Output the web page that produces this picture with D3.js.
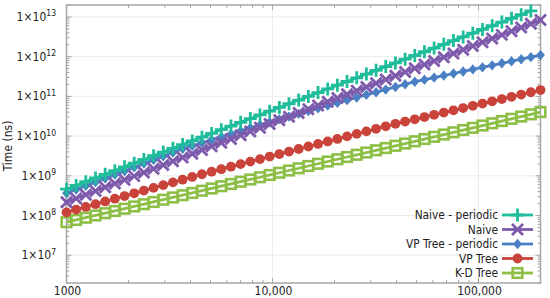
<!DOCTYPE html>
<html><head><meta charset="utf-8">
<script src="https://cdn.jsdelivr.net/npm/d3@7"></script>
<style>
html,body{margin:0;padding:0;background:#fff;}
svg{display:block;}
text{font-family:"DejaVu Sans Condensed","DejaVu Sans",sans-serif;fill:#222;}
</style></head>
<body><svg id="c" width="550" height="298"></svg>
<script>
const sizes = [1000,1114,1241,1383,1541,1717,1913,2132,2375,2647,2949,3286,3661,4079,4545,5064,5642,6286,7004,7804,8695,9688,10795,12028,13401,14931,16637,18537,20653,23012,25640,28568,31831,35466,39516,44029,49057,54659,60901,67856,75605,84239,93859,104578,116521,129828,144654,161174,179580,200000];

const naivePeriodic = [4.61e8,5.72e8,7.10e8,8.80e8,1.09e9,1.35e9,1.68e9,2.08e9,2.58e9,3.20e9,3.97e9,4.93e9,6.11e9,7.58e9,9.40e9,1.165e10,1.45e10,1.79e10,2.22e10,2.76e10,3.42e10,4.24e10,5.26e10,6.52e10,8.09e10,1.00e11,1.245e11,1.54e11,1.91e11,2.37e11,2.94e11,3.65e11,4.53e11,5.62e11,6.97e11,8.64e11,1.07e12,1.33e12,1.65e12,2.04e12,2.54e12,3.14e12,3.90e12,4.84e12,6.00e12,7.44e12,9.23e12,1.14e13,1.42e13];
const naive = [2.17e8,2.70e8,3.34e8,4.15e8,5.15e8,6.38e8,7.92e8,9.82e8,1.218e9,1.511e9,1.875e9,2.326e9,2.885e9,3.579e9,4.44e9,5.51e9,6.83e9,8.48e9,1.052e10,1.305e10,1.618e10,2.007e10,2.49e10,3.09e10,3.83e10,4.75e10,5.90e10,7.32e10,9.07e10,1.126e11,1.396e11,1.732e11,2.149e11,2.666e11,3.307e11,4.10e11,5.09e11,6.31e11,7.83e11,9.71e11,1.205e12,1.495e12,1.854e12,2.30e12,2.854e12,3.54e12,4.39e12,5.45e12,6.76e12,8.38e12];
const vpPeriodic = [3.66e8,4.53e8,5.61e8,6.95e8,8.61e8,1.069e9,1.324e9,1.641e9,2.032e9,2.518e9,3.119e9,3.864e9,4.786e9,5.69e9,6.76e9,8.04e9,9.55e9,1.135e10,1.349e10,1.603e10,1.905e10,2.239e10,2.630e10,3.090e10,3.631e10,4.266e10,5.012e10,5.888e10,6.918e10,8.05e10,9.40e10,1.094e11,1.274e11,1.483e11,1.730e11,2.014e11,2.344e11,2.64e11,2.97e11,3.35e11,3.77e11,4.24e11,4.78e11,5.38e11,6.05e11,6.82e11,7.67e11,8.64e11,9.73e11,1.095e12];
const vpTree = [1.202e8,1.409e8,1.648e8,1.932e8,2.259e8,2.649e8,3.097e8,3.631e8,4.256e8,4.977e8,5.834e8,6.823e8,7.998e8,9.354e8,1.096e9,1.269e9,1.469e9,1.700e9,1.968e9,2.278e9,2.636e9,3.051e9,3.532e9,4.088e9,4.732e9,5.477e9,6.339e9,7.337e9,8.492e9,9.83e9,1.138e10,1.317e10,1.524e10,1.764e10,2.042e10,2.327e10,2.651e10,3.020e10,3.441e10,3.921e10,4.467e10,5.090e10,5.798e10,6.607e10,7.530e10,8.577e10,9.772e10,1.113e11,1.269e11,1.445e11];
const kdTree = [6.79e7,7.74e7,8.81e7,1.004e8,1.144e8,1.303e8,1.485e8,1.691e8,1.926e8,2.195e8,2.500e8,2.848e8,3.245e8,3.697e8,4.211e8,4.797e8,5.465e8,6.226e8,7.093e8,8.081e8,9.204e8,1.049e9,1.195e9,1.361e9,1.550e9,1.766e9,2.012e9,2.292e9,2.611e9,2.975e9,3.388e9,3.860e9,4.398e9,5.010e9,5.707e9,6.501e9,7.407e9,8.438e9,9.612e9,1.095e10,1.247e10,1.421e10,1.619e10,1.844e10,2.101e10,2.393e10,2.726e10,3.106e10,3.538e10,4.031e10];

const seriesNames = ["Naive - periodic","Naive","VP Tree - periodic","VP Tree","K-D Tree"];
const xTickValues = [1000,10000,100000];
const xTickLabels = ["1000","10,000","100,000"];
const yTickExponents = [7,8,9,10,11,12,13];

const series = [
  {name:seriesNames[0], values:naivePeriodic, color:"#20bd9c", marker:"plus"},
  {name:seriesNames[1], values:naive, color:"#7e5aac", marker:"cross"},
  {name:seriesNames[2], values:vpPeriodic, color:"#4a7fc3", marker:"diamond"},
  {name:seriesNames[3], values:vpTree, color:"#c9433b", marker:"circle"},
  {name:seriesNames[4], values:kdTree, color:"#8dbf46", marker:"square"}
];

const L=66.5, R=540.5, T=5, B=283;
const svg = d3.select("#c");
const x = d3.scaleLog().domain([1000,200000]).range([L,R]);
const y = d3.scaleLog().domain([2e6,2e13]).range([B,T]);

// grid
const gx = svg.append("g");
xTickValues.forEach(v=>{ gx.append("line").attr("x1",x(v)).attr("x2",x(v)).attr("y1",T).attr("y2",B).attr("stroke","#ececec").attr("stroke-width",1); });
yTickExponents.forEach(e=>{ const v=Math.pow(10,e); gx.append("line").attr("x1",L).attr("x2",R).attr("y1",y(v)).attr("y2",y(v)).attr("stroke","#ececec").attr("stroke-width",1); });

// ticks
const frameColor="#a6a6a6";
const tk = svg.append("g").attr("stroke",frameColor).attr("stroke-width",1);
const xMinor = x.ticks();
xMinor.forEach(v=>{
  const major = xTickValues.includes(v);
  const len = major?5:3;
  tk.append("line").attr("x1",x(v)).attr("x2",x(v)).attr("y1",B).attr("y2",B-len);
  tk.append("line").attr("x1",x(v)).attr("x2",x(v)).attr("y1",T).attr("y2",T+len);
});
const yMinor = y.ticks();
yMinor.forEach(v=>{
  const e = Math.log10(v);
  const major = Math.abs(e-Math.round(e))<1e-9;
  const len = major?5:3;
  tk.append("line").attr("y1",y(v)).attr("y2",y(v)).attr("x1",L).attr("x2",L+len);
  tk.append("line").attr("y1",y(v)).attr("y2",y(v)).attr("x1",R).attr("x2",R-len);
});

// frame
svg.append("rect").attr("x",L).attr("y",T).attr("width",R-L).attr("height",B-T)
  .attr("fill","none").attr("stroke",frameColor).attr("stroke-width",1.5);

// axis labels
xTickValues.forEach((v,i)=>{
  svg.append("text").attr("x",x(v)+1).attr("y",295).attr("text-anchor","middle")
    .attr("font-size",12).text(xTickLabels[i]);
});
yTickExponents.forEach(e=>{
  const t = svg.append("text").attr("x",56).attr("y",y(Math.pow(10,e))+4).attr("text-anchor","end").attr("font-size",12);
  t.append("tspan").text("1×10");
  t.append("tspan").attr("dy",-4.5).attr("font-size",8.5).text(String(e));
});
svg.append("text").attr("transform","translate(12,146) rotate(-90)").attr("text-anchor","middle")
  .attr("font-size",12).text("Time (ns)");

// markers
function drawMarker(g, type, color, cx, cy){
  if(type==="plus"){
    g.append("path").attr("d",`M${cx-6.5},${cy}H${cx+6.5}M${cx},${cy-6.5}V${cy+6.5}`).attr("stroke",color).attr("stroke-width",2.8).attr("fill","none");
  } else if(type==="cross"){
    g.append("path").attr("d",`M${cx-5.5},${cy-5.5}L${cx+5.5},${cy+5.5}M${cx-5.5},${cy+5.5}L${cx+5.5},${cy-5.5}`).attr("stroke",color).attr("stroke-width",2.8).attr("fill","none");
  } else if(type==="diamond"){
    g.append("path").attr("d",`M${cx},${cy-5.2}L${cx+4.4},${cy}L${cx},${cy+5.2}L${cx-4.4},${cy}Z`).attr("fill",color);
  } else if(type==="circle"){
    g.append("circle").attr("cx",cx).attr("cy",cy).attr("r",4.9).attr("fill",color);
  } else if(type==="square"){
    g.append("rect").attr("x",cx-4.8).attr("y",cy-4.8).attr("width",9.6).attr("height",9.6).attr("fill","none").attr("stroke",color).attr("stroke-width",2.6);
  }
}

const line = d3.line().x(d=>x(d[0])).y(d=>y(d[1]));
const plot = svg.append("g");
series.slice().reverse().forEach(s=>{
  const pts = s.values.map((v,i)=>[sizes[i],v]);
  const g = plot.append("g");
  g.append("path").attr("d",line(pts)).attr("fill","none").attr("stroke",s.color).attr("stroke-width",2.8);
  pts.forEach(p=>drawMarker(g, s.marker, s.color, x(p[0]), y(p[1])));
});

// legend
const rows=[215,229.5,244,258.5,273];
series.forEach((s,i)=>{
  const cy = rows[i];
  svg.append("text").attr("x",498).attr("y",cy+4).attr("text-anchor","end").attr("font-size",11.8).text(s.name);
  const g = svg.append("g");
  g.append("line").attr("x1",502).attr("x2",533).attr("y1",cy).attr("y2",cy).attr("stroke",s.color).attr("stroke-width",2.8);
  drawMarker(g, s.marker, s.color, 517.5, cy);
});
</script></body></html>
